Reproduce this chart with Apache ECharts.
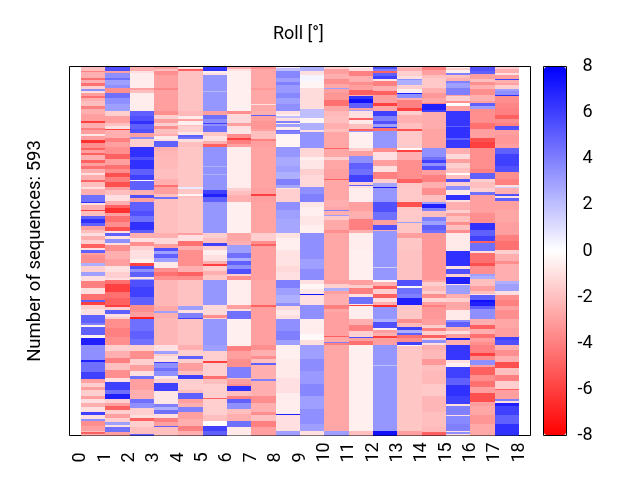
<!DOCTYPE html>
<html><head><meta charset="utf-8">
<script src="https://cdn.jsdelivr.net/npm/echarts@6/dist/echarts.min.js"></script>
<style>html,body{margin:0;padding:0;background:#fff}#c{width:640px;height:480px}</style>
</head><body><div id="c"></div>
<script>
// Each column: runs of sequences [last sequence index of the run, roll value in degrees]
const tickLabels = [0,1,2,3,4,5,6,7,8,9,10,11,12,13,14,15,16,17,18];
const colorTicks = [-8,-6,-4,-2,0,2,4,6,8];
const sequenceCount = 593;
const col0 = [[7,-2],[9,-4],[18,-2.5],[21,-4.5],[27,-2.5],[31,-4.5],[36,-1.5],[39,3.5],[42,-1],[48,-3],[50,-4.5],[56,-2.5],[64,-2],[69,-4],[77,-2.5],[88,-3],[91,-6],[99,-2.5],[102,-4],[109,-3],[112,-0.8],[118,-3],[123,-6.5],[131,-3.5],[134,-5],[139,-3],[143,-5],[150,-2.5],[155,-5],[160,-3],[165,-4.5],[171,-2.5],[175,-1],[182,-2.5],[186,-5],[193,-2],[197,-1],[206,-2.5],[217,4.5],[220,6.5],[223,-1],[230,-2.5],[233,-6],[241,-2],[245,5],[252,6.5],[257,5],[262,-3],[268,-2],[272,-1],[279,-2.5],[286,-1.5],[291,-5],[295,-1],[299,5],[303,-3],[316,-3.5],[320,2.5],[330,-1.5],[336,3],[345,-1],[356,-4],[365,-1],[375,-4.5],[378,5],[384,-6],[390,-1.5],[400,-1],[413,5],[415,4],[418,-0.5],[432,5],[437,-0.5],[448,7],[472,3.5],[475,7],[491,4.5],[502,6],[508,-3],[515,-1.5],[520,-3],[530,-1.5],[535,-3],[540,-1],[548,-2.5],[555,-1],[560,6],[567,-1],[569,3.5],[577,-3.5],[585,-3],[587,-2],[590,-5],[593,-2.5]];
const col1 = [[7,5.5],[10,-3],[18,3.5],[22,4.5],[30,3],[35,3.5],[42,-3.5],[50,4.5],[60,3.5],[72,3],[80,-1.5],[90,-3],[96,-2],[100,-1],[102,-6],[115,-2.5],[122,-4],[129,-3],[140,-3.5],[148,-5],[158,-3],[165,-4.5],[171,-3.5],[178,-5.5],[185,-4],[193,-5.5],[199,-3],[207,-2],[216,-1],[222,-2.5],[228,-5],[236,-6.5],[241,-3],[250,-4.5],[258,-3.5],[265,-5.5],[268,-1],[272,5],[278,-1],[284,3.5],[287,-1],[297,-3.5],[310,-2.5],[320,-3],[330,-1],[340,-1.5],[343,-1],[350,-4.5],[362,-6],[372,-4.5],[383,-5],[387,-6],[392,-1.5],[398,5],[402,-1],[405,-1.5],[420,-3.5],[435,-4],[448,-3.5],[458,-1.5],[468,-2.5],[476,-4],[488,-2],[500,-3.5],[507,-1],[520,6],[526,4.5],[534,7],[540,-1.5],[546,-3],[552,-5],[558,-1.5],[565,-3],[572,-1.5],[576,3],[580,-1],[587,4.5],[593,-3]];
const col2 = [[7,-2.5],[10,-1],[34,-0.6],[38,-3],[42,-2],[72,-0.6],[80,5],[88,5.5],[92,6.5],[100,5],[107,5.5],[114,-3],[117,3.5],[129,-1.5],[145,6.5],[150,5.5],[165,6.5],[175,5],[182,6],[184,-0.2],[198,5],[206,-2.5],[212,5.5],[217,-3],[232,5],[240,5.5],[250,4.5],[262,6.5],[268,5],[275,-2.5],[282,-1],[288,-3.5],[295,-1.5],[310,-1],[316,-0.5],[320,-6],[326,5.5],[330,3.5],[338,5],[341,-1],[343,3],[355,5.5],[370,6],[383,5],[395,-3.5],[403,-3],[405,-7],[425,4.5],[438,5],[448,4.5],[458,-1.5],[470,-3.5],[480,-1.5],[490,-3],[497,-1],[502,4.5],[520,-3],[534,-2.5],[541,4.5],[549,3.5],[560,-1.5],[565,-1],[570,-5],[580,-1.5],[590,-2],[593,5]];
const col3 = [[4,-3],[8,-2],[13,-3.5],[34,-3],[38,-3.8],[42,-3],[72,-3],[78,-3.5],[84,-1.5],[90,-3],[96,-1.5],[100,-3.5],[108,-2],[112,-2.5],[116,-0.7],[119,-1],[129,5],[135,-2.5],[145,-2.3],[165,-2.2],[180,-2],[190,-2.5],[193,-4.5],[205,-3],[209,-2],[213,4.5],[217,-2],[268,-2],[275,-2.5],[285,-1.2],[292,-3],[297,5.5],[302,3],[308,5],[314,3],[324,-0.7],[330,-3.5],[336,-4.5],[343,-3.5],[385,-2.3],[393,-2.7],[396,3],[404,-2.5],[447,-2.3],[458,-1],[462,3],[466,-1.5],[475,-1],[477,6],[484,3.5],[490,4.5],[497,3.5],[503,-0.8],[508,-1.5],[522,6],[542,-0.8],[547,4],[552,2.5],[558,4.5],[565,-1],[572,-4],[577,-3],[580,5],[593,-2]];
const col4 = [[2,-0.5],[4,-1],[7,-5],[72,-1.9],[80,-2.2],[84,-0.7],[87,-3],[94,-0.5],[96,-2],[106,-1.5],[110,-0.8],[113,5],[117,4.5],[122,-1],[129,-2],[194,-1.8],[197,0.7],[205,-1.8],[208,-0.3],[212,-2],[267,-1.8],[270,-3],[280,-1],[288,-4.5],[295,-2.5],[320,-3.5],[330,-2.5],[337,-5],[343,-3.5],[385,-1.9],[392,3],[396,-1],[404,4],[405,6],[448,-1.9],[456,-2.5],[465,-1.5],[470,5],[477,-1.5],[490,-3],[495,-2],[502,6],[520,-1.5],[524,-2],[535,5],[540,-3],[547,-2.5],[556,4],[566,-3],[577,-2.5],[585,-4],[593,-2.5]];
const col5 = [[8,6.5],[10,-0.5],[13,-1],[40,3.3],[41,2.2],[72,3.3],[78,-3],[85,4.5],[90,3.5],[92,6],[95,3.5],[105,4.5],[112,-1.8],[120,-1],[125,-2.5],[129,-5],[160,3.4],[161,2.5],[172,3.4],[174,2.5],[198,3.4],[205,6],[209,7],[217,5],[267,3.3],[275,-1.5],[284,-2],[289,6],[295,-1.5],[303,-0.5],[312,-1],[318,-2.5],[320,-6],[328,-1.5],[335,-2.5],[343,-1.8],[383,3.3],[400,-1.2],[404,-3.5],[406,-1.5],[448,3.3],[458,3],[474,-1.5],[477,-6],[497,-1.5],[502,-4.5],[510,-2],[533,-1.5],[535,-5],[560,-1.5],[570,-2],[578,-0.1],[585,6],[593,5]];
const col6 = [[4,-2.5],[7,-1],[8,3],[72,-0.5],[77,-3.5],[90,-1.2],[95,-3],[100,-1],[108,-0.8],[115,-3.5],[118,-6],[124,-4],[129,-3],[195,-0.6],[200,-1.5],[206,-2],[217,-2.5],[267,-0.5],[280,-2.8],[287,-2.5],[300,3],[308,4.5],[313,2.5],[319,5],[325,3.5],[333,5.5],[336,-1.5],[343,-3.5],[383,-0.6],[390,-3],[393,-1],[405,4.5],[449,-0.5],[458,-4],[470,-3],[483,-3.5],[500,4],[502,-2],[510,-3],[514,-3.5],[522,6.5],[530,-2],[534,-4],[540,5],[550,3.5],[558,-2],[570,-2.5],[579,4.5],[593,-0.7]];
const col7 = [[4,-3.5],[34,-2.8],[38,-3.2],[60,-2.8],[62,-1],[72,-2.7],[78,-2.5],[80,5],[88,-3],[100,-3.3],[104,-3],[116,-2],[120,-4],[129,-3],[195,-2.9],[205,-3],[208,-6],[217,-3],[267,-2.9],[280,-1.5],[285,-3.5],[289,-5],[295,-3],[343,-3],[383,-2.8],[387,-5],[447,-3],[455,-3.5],[465,-2.5],[470,-3.5],[476,-2],[479,5],[502,-2.5],[505,4],[530,-2.5],[540,-3.5],[555,-2.5],[560,-3.5],[570,-2],[580,-4],[593,-3]];
const col8 = [[3,-0.6],[8,2],[18,3.8],[25,3],[30,4],[42,3.2],[50,3.8],[60,3],[72,3.5],[76,-1],[80,-0.5],[83,2],[87,-1],[90,4],[93,-0.6],[98,3],[102,-0.6],[104,4.5],[108,4],[112,-0.4],[129,-0.3],[145,3.3],[160,2.7],[170,3],[180,2.5],[190,4],[195,2.8],[197,-1],[217,-1.5],[230,3.5],[245,3],[268,2.8],[275,-0.9],[295,-0.5],[320,-0.9],[330,-1.2],[343,-1],[356,4],[368,3],[380,2.5],[385,3.5],[392,-1.2],[400,-0.7],[405,-1],[425,3.5],[440,4],[448,3],[470,-0.5],[500,-0.7],[525,-1],[558,-0.6],[560,7],[585,-1],[593,3]];
const col9 = [[7,2.5],[14,-1],[24,0.3],[34,-0.3],[69,-1.1],[83,2],[91,-0.3],[102,2.5],[106,-1],[131,3.4],[145,-1.3],[150,-0.5],[165,-0.8],[175,-1.5],[193,-1.2],[205,3.5],[217,4],[225,-0.8],[240,-0.5],[255,-0.8],[268,-0.5],[295,3.5],[310,3.5],[325,3],[343,3.6],[350,-1],[358,-0.3],[365,-0.8],[368,7.5],[383,-1],[406,3.5],[430,-0.6],[440,-0.2],[448,-1],[470,3],[490,3.6],[510,3.2],[530,3.8],[550,3],[575,3.5],[585,3],[593,-1]];
const col10 = [[4,-1.5],[12,-3],[20,-2.5],[28,-3.5],[34,-2.8],[36,3],[42,-3],[54,-3.3],[64,-4.5],[72,-2.8],[80,-2.2],[90,-2],[100,-2.5],[106,-2],[131,-2.8],[133,-5],[145,-2.8],[150,-1.5],[165,-2.8],[180,-3],[182,-5],[215,-2.8],[225,-2.5],[231,-2.8],[233,4],[238,-2.5],[240,3],[247,-1.7],[262,-2.7],[268,-3.5],[293,-2.8],[343,-2.8],[350,-3],[356,-1.5],[360,2.5],[365,-3],[383,-2.5],[390,-4],[395,-2.8],[433,-3],[435,-5],[442,-2.7],[444,4],[448,-4],[585,-2.8],[586,6],[593,3]];
const col11 = [[2,-0.5],[8,-1],[15,-4],[25,-2.5],[30,-3.5],[38,-3],[45,-5],[47,-2.5],[52,6.5],[58,7.5],[66,5],[70,-3],[72,3],[82,-1],[86,-5],[92,-0.7],[100,-2],[104,-5],[106,3],[131,-0.5],[135,-1.5],[136,-5],[144,-3],[155,3.5],[165,5],[175,4.5],[185,6],[190,-1.5],[192,5],[196,-1],[217,-0.6],[232,-3],[245,-2.5],[262,-4],[268,-2.5],[295,-0.6],[343,-0.5],[351,-3],[356,-1.5],[365,-4],[370,-1],[381,4.5],[383,-0.8],[385,-6],[405,-0.6],[415,-2.5],[425,-4],[435,-1.5],[437,5.5],[441,-3],[448,-4.5],[585,-0.5],[593,-2]];
const col12 = [[4,5.5],[7,4],[10,-5],[15,5],[20,6],[24,-0.8],[32,-4],[40,-2.5],[46,-5],[58,-3],[64,-6],[72,-2.8],[80,6],[88,4],[92,5.5],[98,3],[99,6.5],[104,-4.5],[131,3.3],[137,-3.5],[150,-1],[160,-3],[170,-1],[180,-4],[188,-1.5],[193,2.8],[196,7],[218,3.3],[234,5.5],[246,4.5],[254,-3],[262,5.5],[265,-2.5],[295,3.3],[322,3.3],[324,1.5],[343,3.3],[346,-0.3],[352,-2.5],[358,-5],[366,-1.5],[372,-5],[378,-1],[383,-2.5],[386,-6.5],[405,3.3],[410,2.5],[420,5.5],[423,-0.5],[428,-3],[433,-2.5],[436,-6],[448,-3],[480,3.3],[481,2],[540,3.3],[541,2],[585,3.3],[593,7.5]];
const col13 = [[3,-2],[8,-2.5],[15,-1.5],[20,-1],[22,3.5],[30,2.5],[36,-1.5],[42,-0.5],[44,7],[50,3.5],[54,-2.5],[66,-4],[72,-6],[78,-1.5],[90,-2.5],[100,-2],[104,-5.5],[131,-1.7],[134,-0.2],[138,-6],[150,-2.5],[165,-3.5],[180,-3.5],[187,-5],[195,-1.8],[217,-1.7],[226,-5.5],[230,-1.8],[250,-1.7],[251,3],[268,-1.8],[275,-3],[295,-1.8],[343,-1.9],[352,5.5],[356,-0.3],[365,4.5],[372,4],[383,7],[406,-1.8],[412,-3.5],[418,-2.2],[424,6],[428,2.5],[432,5],[437,-4.5],[442,-3.5],[447,6],[449,-0.4],[585,-1.8],[593,-3]];
const col14 = [[5,-4],[13,-3],[18,-2],[34,-1.7],[42,-2.5],[50,-3.2],[58,-2.8],[61,-4],[70,7],[73,6],[100,-2.6],[131,-2.9],[145,3.5],[150,4.5],[155,6],[160,3.5],[166,5.5],[175,-3],[185,-4],[195,-2.5],[206,-3.5],[217,-2],[221,3],[228,7],[233,4],[242,-2],[248,4],[255,3],[262,5],[267,4.5],[295,-3.2],[343,-3.2],[347,-2.8],[352,-1.5],[360,-2.2],[366,-1.5],[372,-3.5],[378,-1.3],[383,-3],[387,-4],[405,-3.2],[415,-3],[420,-1.5],[425,-4],[432,-1.5],[436,-5],[440,-1.5],[445,3.5],[448,-1],[455,-2.5],[470,-2.2],[480,-3.2],[490,-2],[510,-2.2],[530,-1.7],[555,-2.3],[580,-2],[588,-2.2],[593,-5]];
const col15 = [[3,-0.5],[6,-1.5],[10,-0.5],[13,4],[18,-2],[23,-2.5],[27,4],[35,3],[45,4],[47,-3],[56,-1.5],[58,-3.5],[64,-0.1],[72,-3],[95,6.3],[98,5],[115,6.5],[118,5],[131,6.2],[140,-2.5],[148,-1.2],[155,-3],[163,-1.5],[171,-2],[174,-0.1],[180,-2],[185,5.5],[192,-1.5],[198,3.5],[206,-0.7],[214,6.5],[217,-1],[230,-2.5],[236,-1.5],[241,-3],[250,-2],[255,-3.5],[262,-2],[268,-3.5],[297,-0.7],[320,6.5],[325,-1],[333,5.5],[338,-1.5],[349,7],[351,-1],[365,3],[372,-2.5],[378,-1.5],[392,-2.8],[407,-0.7],[411,3.5],[418,5],[425,-2.5],[430,-1],[437,-3],[440,7],[447,-2.5],[472,6.3],[477,-1],[483,-0.5],[500,6],[512,5],[530,6.5],[542,6],[545,-1],[560,4],[562,-1],[575,3.7],[585,4],[587,-1],[590,3.5],[593,-1]];
const col16 = [[8,5.5],[12,5],[20,-3],[25,-2],[30,-3.5],[36,-2.5],[45,-3.5],[55,-2.5],[58,-3],[64,5],[69,3],[90,-3.5],[100,-4.5],[115,-3],[122,-5.5],[131,-6],[145,-3.5],[165,-3.5],[171,-4],[180,5],[185,-1.5],[195,-2],[201,-1.5],[206,4.5],[212,-3],[235,-3],[252,-3.5],[262,6.5],[272,5],[281,6],[284,-5],[297,4.5],[300,-1],[315,-4.5],[320,-5.5],[333,-3.5],[337,3],[342,2.5],[352,-2],[360,-3],[365,-2],[367,-1],[375,5],[378,7.5],[385,7],[389,5],[405,3.5],[415,-2.5],[422,-5],[430,-2.5],[437,-4.5],[442,-3],[448,-3.5],[460,-4],[466,-6],[472,-3.5],[480,3.5],[483,-3],[495,-5],[505,-3.5],[515,-4.5],[525,-3],[539,-5.5],[545,-3],[560,-2.8],[575,-3.3],[593,-2.7]];
const col17 = [[4,-1.5],[10,-2.5],[14,-1],[20,-3],[21,6],[26,-2.5],[30,-3],[36,-1.5],[40,3],[45,3.5],[48,6.5],[58,-3.5],[66,-3.8],[78,-4],[84,-5],[90,-3.5],[96,-4],[102,5.5],[110,-3],[125,-3.2],[131,-3],[140,5],[160,6],[170,5.5],[180,-3.5],[190,-4],[193,-1],[196,1.5],[205,-2.5],[208,5.5],[212,-1],[216,5],[230,-3],[250,-2.8],[270,-3],[280,-4],[295,-4.5],[302,-1.5],[312,-2.5],[318,-3.5],[345,-2.5],[350,2.5],[360,3],[367,-1],[375,-3.5],[385,-4],[392,-3],[405,-3.5],[420,-2.8],[434,-3],[440,6],[448,5.5],[455,-2.5],[465,-3.5],[475,-2.5],[485,-5.5],[495,-2],[505,-4],[518,-1.5],[520,-5],[534,-3],[537,4],[541,-1],[546,7],[560,6],[575,5],[593,6.5]];
const columns = [col0,col1,col2,col3,col4,col5,col6,col7,col8,col9,col10,col11,col12,col13,col14,col15,col16,col17];

const cells = [];
columns.forEach((col, c) => {
  let start = 0;
  col.forEach(([end, v]) => {
    if (end > start) cells.push([c, start, end, v, c + 1]);
    start = Math.max(start, end);
  });
});

const chart = echarts.init(document.getElementById('c'), null, {renderer: 'canvas'});
const font = 'Roboto';
chart.setOption({
  animation: false,
  backgroundColor: '#fff',
  title: {text: 'Roll [°]', left: 268, top: 20,
    textStyle: {fontFamily: font, fontSize: 18, fontWeight: 'normal', color: '#000'}},
  grid: [
    {left: 69.5, top: 66.5, width: 461, height: 369, show: true, borderColor: '#000', borderWidth: 1, backgroundColor: '#fff', z: 1},
    {left: 543.5, top: 66.5, width: 23, height: 369, show: true, borderColor: '#000', borderWidth: 1, backgroundColor: 'transparent', z: 5}
  ],
  xAxis: [
    {type: 'value', gridIndex: 0, min: -0.47, max: 18.47, splitLine: {show: false},
      axisLine: {show: false}, axisTick: {show: false},
      axisLabel: {customValues: tickLabels, rotate: 90, align: 'left', verticalAlign: 'middle', margin: 27,
        fontFamily: font, fontSize: 18, color: '#000', hideOverlap: false}},
    {type: 'value', gridIndex: 1, min: 0, max: 1, show: false}
  ],
  yAxis: [
    {type: 'value', gridIndex: 0, inverse: true, min: 0, max: sequenceCount, splitLine: {show: false},
      axisLine: {show: false}, axisTick: {show: false}, axisLabel: {show: false},
      name: 'Number of sequences: ' + sequenceCount, nameLocation: 'middle', nameRotate: 90, nameGap: 25,
      nameTextStyle: {fontFamily: font, fontSize: 18.5, color: '#000'}},
    {type: 'value', gridIndex: 1, position: 'right', min: -8, max: 8, interval: 2, splitLine: {show: false},
      axisLine: {show: false}, axisTick: {show: false},
      axisLabel: {customValues: colorTicks, align: 'right', margin: 26, padding: [2, 0, 0, 0], fontFamily: font, fontSize: 18, color: '#000'}}
  ],
  visualMap: {
    type: 'continuous', seriesIndex: 0, dimension: 3, min: -8, max: 8,
    left: 544, top: 67, itemWidth: 22, itemHeight: 368, padding: 0,
    calculable: false, hoverLink: false, showLabel: false, text: null,
    inRange: {color: ['#ff0000', '#ffffff', '#0000ff']}
  },
  series: [
    {type: 'custom', xAxisIndex: 0, yAxisIndex: 0, clip: true, silent: true,
      encode: {x: [0, 4], y: [1, 2]}, data: cells,
      renderItem(params, api) {
        const a = api.coord([api.value(0), api.value(1)]);
        const b = api.coord([api.value(4), api.value(2)]);
        const x0 = Math.round(a[0]), x1 = Math.round(b[0]);
        const y0 = Math.round(a[1]);
        const y1 = Math.max(y0 + 1, Math.round(b[1]));
        return {type: 'rect', shape: {x: x0, y: y0, width: x1 - x0, height: y1 - y0},
          style: {fill: api.visual('color')}};
      }},
    {type: 'scatter', xAxisIndex: 1, yAxisIndex: 1, data: [], silent: true}
  ]
});
</script></body></html>
